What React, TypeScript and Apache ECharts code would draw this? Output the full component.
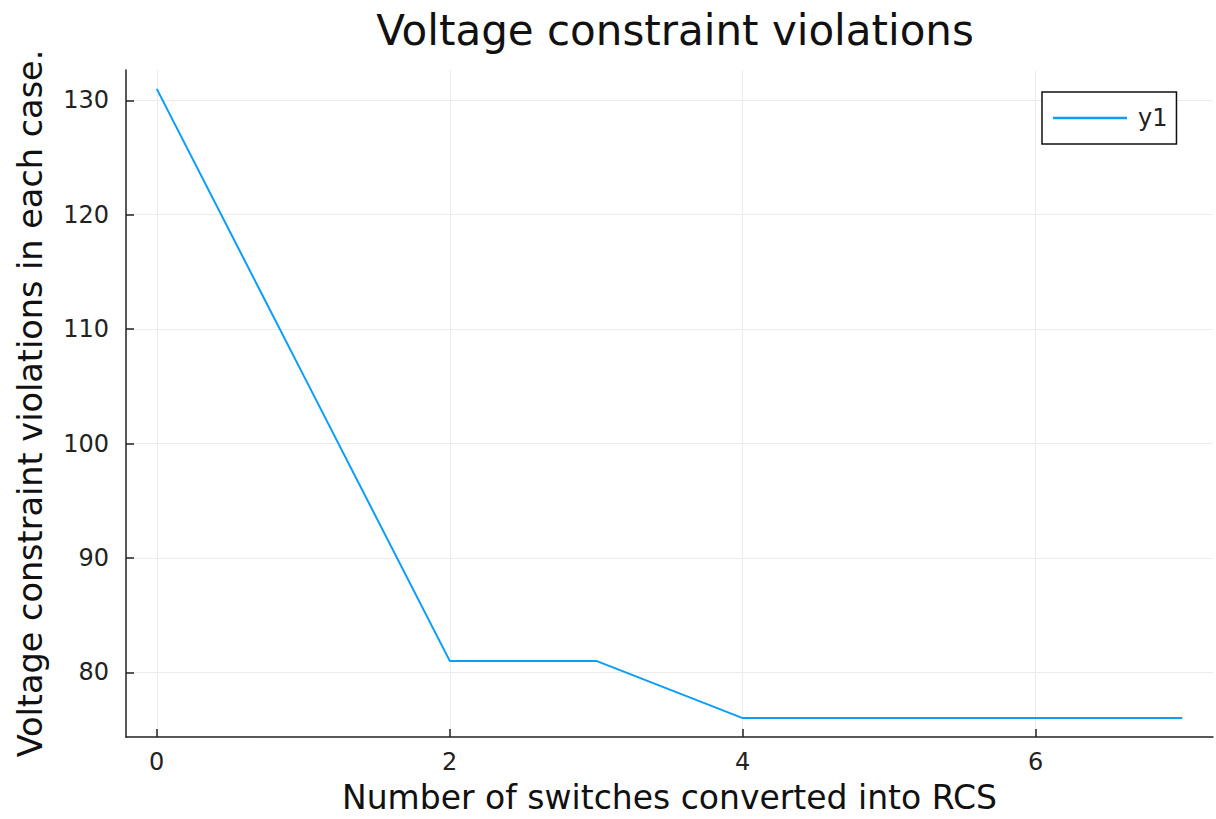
import React, { useEffect, useRef } from "react";
import * as echarts from "echarts";

const xValues = [0, 1, 2, 3, 4, 5, 6, 7];
const yValues = [131, 106, 81, 81, 76, 76, 76, 76];
const xTicks = [0, 2, 4, 6];
const yTicks = [80, 90, 100, 110, 120, 130];
const seriesName = "y1";
const titleText = "Voltage constraint violations";
const xName = "Number of switches converted into RCS";
const yName = "Voltage constraint violations in each case.";

const FONT = "DejaVu Sans";

export default function App() {
  const ref = useRef<HTMLDivElement>(null);
  useEffect(() => {
    document.body.style.margin = "0";
    const chart = echarts.init(ref.current!, null, { renderer: "svg" });
    chart.setOption({
      animation: false,
      backgroundColor: "#ffffff",
      textStyle: { fontFamily: FONT },
      title: {
        text: titleText,
        left: 670,
        textAlign: "center",
        top: 4,
        textStyle: { fontFamily: FONT, fontSize: 42, fontWeight: "normal", color: "#111" },
      },
      legend: {
        data: [{ name: seriesName, icon: "rect" }],
        left: 1042,
        top: 92,
        orient: "vertical",
        itemWidth: 74,
        itemHeight: 2.5,
        padding: [14, 9, 14, 11],
        borderColor: "#111",
        borderWidth: 1.5,
        borderRadius: 0,
        backgroundColor: "#fff",
        textStyle: { fontFamily: FONT, fontSize: 24, color: "#222", padding: [0, 0, 0, 6] },
      },
      grid: { left: 126, right: 3, top: 70, bottom: 81, containLabel: false },
      xAxis: {
        type: "value",
        min: -0.21,
        max: 7.21,
        name: xName,
        nameLocation: "middle",
        nameGap: 44,
        nameTextStyle: { fontFamily: FONT, fontSize: 33, color: "#111" },
        axisLine: { show: true, onZero: false, lineStyle: { color: "#222", width: 1.5 } },
        axisTick: { show: true, inside: true, length: 8, customValues: xTicks, lineStyle: { color: "#222", width: 1.5 } },
        axisLabel: { customValues: xTicks, fontFamily: FONT, fontSize: 24, color: "#222", margin: 13 },
        splitLine: { show: true, lineStyle: { color: "#ececec", width: 1 } },
      },
      yAxis: {
        type: "value",
        min: 74.35,
        max: 132.65,
        name: yName,
        nameLocation: "middle",
        nameGap: 79,
        nameTextStyle: { fontFamily: FONT, fontSize: 33.5, color: "#111" },
        axisLine: { show: true, onZero: false, lineStyle: { color: "#222", width: 1.5 } },
        axisTick: { show: true, inside: true, length: 8, customValues: yTicks, lineStyle: { color: "#222", width: 1.5 } },
        axisLabel: { customValues: yTicks, fontFamily: FONT, fontSize: 24, color: "#222", margin: 17 },
        splitLine: { show: true, lineStyle: { color: "#ececec", width: 1 } },
      },
      series: [
        {
          name: seriesName,
          type: "line",
          data: xValues.map((x, i) => [x, yValues[i]]),
          showSymbol: false,
          symbol: "none",
          color: "#0a9ef8",
          lineStyle: { color: "#0a9ef8", width: 2 },
        },
      ],
    });
    return () => chart.dispose();
  }, []);
  return <div ref={ref} style={{ position: "fixed", left: 0, top: 0, width: 1216, height: 819 }} />;
}
